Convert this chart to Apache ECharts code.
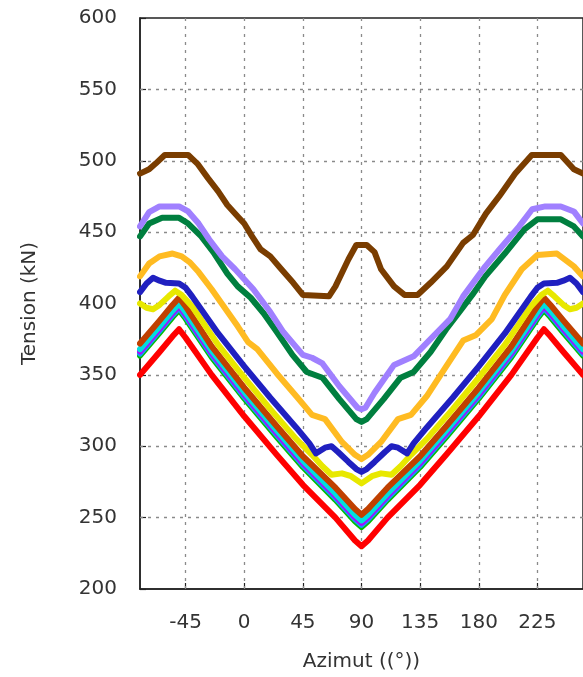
<!DOCTYPE html>
<html>
<head>
<meta charset="utf-8">
<script src="https://cdn.jsdelivr.net/npm/echarts@6/dist/echarts.min.js"></script>
<style>
html,body{margin:0;padding:0;background:#fff;}
#c{width:583px;height:677px;}
</style>
</head>
<body>
<div id="c"></div>
<script>
// ---- data (azimuth in degrees, tension in kN) ----
const xTicks = [-45, 0, 45, 90, 135, 180, 225, 270];
const yGridTicks = [250, 300, 350, 400, 450, 500, 550];

const vAz = [-80,-65,-55,-50,-45,-25,0,25,45,70,85,90,95,110,135,155,180,205,225,230,235,245,260];
const redT = [350,366,377,382,376,350,321,294,273,250,234,230,234,250,273,294,321,350,376,382,377,366,350];
const green2T = [363.5,379.5,390.5,395.5,389.5,362.5,333.5,306.5,285.5,262.5,247.5,243.5,247.5,262.5,285.5,306.5,333.5,362.5,389.5,395.5,390.5,379.5,363.5];
const lightBlueT = [365,381,392,397,391,364,335,308,287,264,249,245,249,264,287,308,335,364,391,397,392,381,365];
const magentaT = [366.5,382.5,393.5,398.5,392.5,365.5,336.5,309.5,288.5,265.5,250.5,246.5,250.5,265.5,288.5,309.5,336.5,365.5,392.5,398.5,393.5,382.5,366.5];
const cyanT = [368,384,395,400,394,367,338,311,290,267,252,248,252,267,290,311,338,367,394,400,395,384,368];
const rustT = [372,388,399,404,398,370,341,314,293,271,256,252,256,271,293,314,341,370,398,404,399,388,372];

const yellowAz = [-80,-75,-70,-65,-58,-53,-48,-40,-20,0,20,40,52,60,67,75,82,90,98,105,113,120,128,140,160,180,200,220,228,233,238,245,250,255,260];
const yellowT = [400,397,396,399,405,409,406,398,371,348,326,305,294,286,280,281,279,274,279,281,280,286,294,305,326,348,371,398,406,409,405,399,396,397,400];

const blueAz = [-80,-75,-70,-65,-60,-50,-45,-40,-20,0,20,40,50,55,62,67,72,80,86,90,94,100,108,113,118,125,130,140,160,180,200,220,225,230,240,245,250,255,260];
const blueT = [408,414,418,416,414.5,414,411,405,379,356,334,313,302,295,299,300,296,289,284,282,284,289,296,300,299,295,302,313,334,356,379,405,411,414,414.5,416,418,414,408];

const orangeAz = [-80,-73,-65,-55,-48,-42,-35,-25,-15,-5,3,10,25,40,52,62,75,85,90,95,105,118,128,140,155,168,178,190,200,213,225,240,253,260];
const orangeT = [419,428,433,435,433,429,422,410,397,384,373,368,351,335,322,319,303,294,291,294,303,319,322,335,356,374,378,389,406,424,434,435,426,419];

const dkGreenAz = [-80,-73,-63,-50,-43,-33,-23,-13,-5,5,15,25,37,48,60,73,86,90,94,107,120,130,143,155,165,175,185,200,215,225,243,253,260];
const dkGreenT = [447,456,460,460,456,447,435,421,412,404,393,380,364,352,348,333,319,317,319,333,348,352,366,382,394,406,419,435,452,459,459,454,447];

const lavenderAz = [-80,-73,-65,-50,-43,-35,-27,-17,-7,0,7,20,30,45,52,60,73,87,90,93,100,115,130,145,158,168,185,196,211,221,231,243,253,260];
const lavenderT = [454,464,468,468,464.5,456,445,433,424,417,410,394,380,364,362,358,342,327,326,327,337.5,357,363,377,389,405,426,438,454,466,468,468,464.5,456];

const brownAz = [-80,-73,-68,-61,-43,-36,-28,-20,-13,-5,0,6,12.5,20,27.5,37.6,45,65,70,80,86,94,100,105,115,123,133,143,155.5,168,175.5,185.5,195.6,208,220.7,243,253,260];
const brownT = [491,494,498,504,504,498,488,478.5,469,461,456,447,438,433,425,414.5,406,405,412,431,441,441,436,424,412,406,406,414.5,426,442.5,448,463,475,491,504,504,494,491];

const seriesDefs = [
  {name:'s1', az:vAz, t:redT, color:'#ff0000'},
  {name:'s2', az:vAz, t:green2T, color:'#00c000'},
  {name:'s3', az:vAz, t:lightBlueT, color:'#1e90ff'},
  {name:'s4', az:vAz, t:magentaT, color:'#b000ff'},
  {name:'s5', az:vAz, t:cyanT, color:'#00dede'},
  {name:'s6', az:vAz, t:rustT, color:'#c04000'},
  {name:'s7', az:yellowAz, t:yellowT, color:'#e8e800'},
  {name:'s8', az:blueAz, t:blueT, color:'#2020c0'},
  {name:'s9', az:orangeAz, t:orangeT, color:'#ffbb22'},
  {name:'s10', az:dkGreenAz, t:dkGreenT, color:'#007f3f'},
  {name:'s11', az:lavenderAz, t:lavenderT, color:'#a080ff'},
  {name:'s12', az:brownAz, t:brownT, color:'#7a3d00'}
];

const chart = echarts.init(document.getElementById('c'), null, {renderer:'canvas'});
const font = 'DejaVu Sans';

const curveSeries = seriesDefs.map(d => ({
  name:d.name, type:'line', showSymbol:false, symbol:'none', z:3,
  data:d.az.map((a,i)=>[a, d.t[i]]),
  lineStyle:{color:d.color, width:6, join:'round', cap:'round'},
  itemStyle:{color:d.color},
  clip:true
}));

// dashed grid drawn through the axes' scales
const gridSeries = {
  name:'grid', type:'line', z:1, showSymbol:false, symbol:'none',
  data:[[xTicks[0], yGridTicks[0]]],
  lineStyle:{opacity:0},
  markLine:{
    silent:true, z:1, animation:false,
    symbol:['none','none'],
    label:{show:false},
    emphasis:{disabled:true},
    lineStyle:{color:'#8a8a8a', width:1.3, type:[3,5]},
    data:[
      ...yGridTicks.map(v => ({yAxis:v})),
      ...xTicks.filter(v => v < 260).map(v => ({xAxis:v}))
    ]
  }
};

chart.setOption({
  animation:false,
  backgroundColor:'#ffffff',
  grid:{left:140, top:18, right:-9, bottom:87, show:true, borderColor:'#222', borderWidth:1.5, backgroundColor:'transparent'},
  xAxis:{
    type:'value', min:-80, max:260,
    name:'Azimut ((°))', nameLocation:'middle', nameGap:63,
    nameTextStyle:{fontFamily:font, fontSize:20, color:'#333'},
    axisLine:{show:true, onZero:false, lineStyle:{color:'#222', width:1.5}},
    axisTick:{show:true, inside:true, length:6, customValues:xTicks, lineStyle:{color:'#222', width:1.2}},
    axisLabel:{show:true, customValues:xTicks, margin:24, fontFamily:font, fontSize:20, color:'#333'},
    splitLine:{show:false}
  },
  yAxis:{
    type:'value', min:200, max:600, interval:50,
    name:'Tension (kN)', nameLocation:'middle', nameGap:100, nameRotate:90,
    nameTextStyle:{fontFamily:font, fontSize:20, color:'#333'},
    axisLine:{show:true, onZero:false, lineStyle:{color:'#222', width:1.5}},
    axisTick:{show:true, inside:true, length:6, lineStyle:{color:'#222', width:1.2}},
    axisLabel:{show:true, margin:23, fontFamily:font, fontSize:20, color:'#333'},
    splitLine:{show:false}
  },
  series:[gridSeries, ...curveSeries]
});
</script>
</body>
</html>
